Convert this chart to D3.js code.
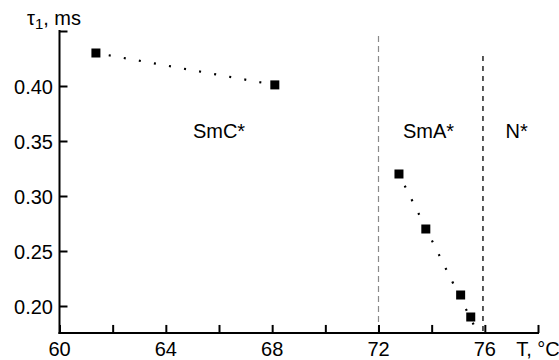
<!DOCTYPE html>
<html><head><meta charset="utf-8">
<script src="https://cdn.jsdelivr.net/npm/d3@7"></script>
<style>body{margin:0;background:#fff}svg{display:block}text{font-family:"Liberation Sans",Arial,sans-serif;fill:#000}</style>
</head><body><svg id="c" width="559" height="360"></svg>
<script>
const temps = [61.37, 68.1, 72.77, 73.78, 75.09, 75.47];
const taus = [0.430, 0.401, 0.320, 0.270, 0.210, 0.190];
const trend1 = [[61.37, 0.430], [68.1, 0.401]];
const trend2 = [[72.77, 0.320], [75.6, 0.182]];
const xTicks = [60, 62, 64, 66, 68, 70, 72, 74, 76, 78];
const xLabels = ["60", "64", "68", "72", "76"];
const yTicks = [0.20, 0.25, 0.30, 0.35, 0.40, 0.45];
const yLabels = ["0.20", "0.25", "0.30", "0.35", "0.40"];
const phaseNames = ["SmC*", "SmA*", "N*"];
const phaseT = [66.0, 73.88, 77.2];
const phaseTau = [0.3527, 0.3527, 0.3527];
const boundaries = [72.0, 75.93];
const boundaryTop = [0.4455, 0.4273];

const FS = 20;
const svg = d3.select("#c");
const x = d3.scaleLinear().domain([60, 78]).range([59.5, 538]);
const y = d3.scaleLinear().domain([0.20, 0.40]).range([306, 86]);
const y0 = y(0.1755), yTop = y(0.45);

// boundaries
svg.selectAll("line.b").data(boundaries).join("line")
  .attr("x1", d => x(d)).attr("x2", d => x(d))
  .attr("y1", (d, i) => y(boundaryTop[i])).attr("y2", y0)
  .attr("stroke", (d, i) => i === 0 ? "#8a8a8a" : "#000")
  .attr("stroke-width", (d, i) => i === 0 ? 1.2 : 1.3)
  .attr("stroke-dasharray", (d, i) => i === 0 ? "6,4" : "5,5");

// x axis
const xAxis = d3.axisBottom(x).tickValues(xTicks).tickSize(-8).tickFormat("");
const gx = svg.append("g").attr("transform", `translate(0,${y0})`).call(xAxis);
gx.select(".domain").remove();
gx.selectAll(".tick line").attr("stroke", "#000").attr("stroke-width", 2);
svg.append("line").attr("x1", x(60) - 1).attr("x2", x(78) + 1).attr("y1", y0).attr("y2", y0)
  .attr("stroke", "#000").attr("stroke-width", 2);
svg.selectAll("text.xl").data(xLabels).join("text").attr("class", "xl")
  .attr("x", d => x(+d)).attr("y", 356).attr("text-anchor", "middle")
  .attr("font-size", FS).text(d => d);
svg.append("text").attr("x", x(78)).attr("y", 356).attr("text-anchor", "middle")
  .attr("font-size", FS).text("T, °C");

// y axis
const yAxis = d3.axisLeft(y).tickValues(yTicks).tickSize(-8).tickFormat("");
const gy = svg.append("g").attr("transform", `translate(${x(60)},0)`).call(yAxis);
gy.select(".domain").remove();
gy.selectAll(".tick line").attr("stroke", "#000").attr("stroke-width", 2);
svg.append("line").attr("x1", x(60)).attr("x2", x(60)).attr("y1", yTop - 1).attr("y2", y0 + 1)
  .attr("stroke", "#000").attr("stroke-width", 2);
svg.selectAll("text.yl").data(yLabels).join("text").attr("class", "yl")
  .attr("x", 53).attr("y", d => y(+d)).attr("dy", "0.38em").attr("text-anchor", "end")
  .attr("font-size", FS).text(d => d);
const t = svg.append("text").attr("x", 27).attr("y", 25).attr("font-size", FS);
t.append("tspan").text("τ");
t.append("tspan").attr("font-size", 15).attr("dy", 4).text("1");
t.append("tspan").attr("dy", -4).text(", ms");

// trend lines
const line = d3.line().x(d => x(d[0])).y(d => y(d[1]));
svg.selectAll("path.tr").data([trend1, trend2]).join("path")
  .attr("d", line).attr("fill", "none").attr("stroke", "#000")
  .attr("stroke-width", 2.2).attr("stroke-dasharray", "2,13.3")
  .attr("stroke-dashoffset", -13);

// points
svg.selectAll("rect.p").data(temps).join("rect")
  .attr("x", d => x(d) - 4.5).attr("y", (d, i) => y(taus[i]) - 4.5)
  .attr("width", 9).attr("height", 9).attr("fill", "#000");

// phase labels
svg.selectAll("text.ph").data(phaseNames).join("text")
  .attr("x", (d, i) => x(phaseT[i])).attr("y", (d, i) => y(phaseTau[i]))
  .attr("text-anchor", "middle").attr("font-size", FS).text(d => d);
</script></body></html>
